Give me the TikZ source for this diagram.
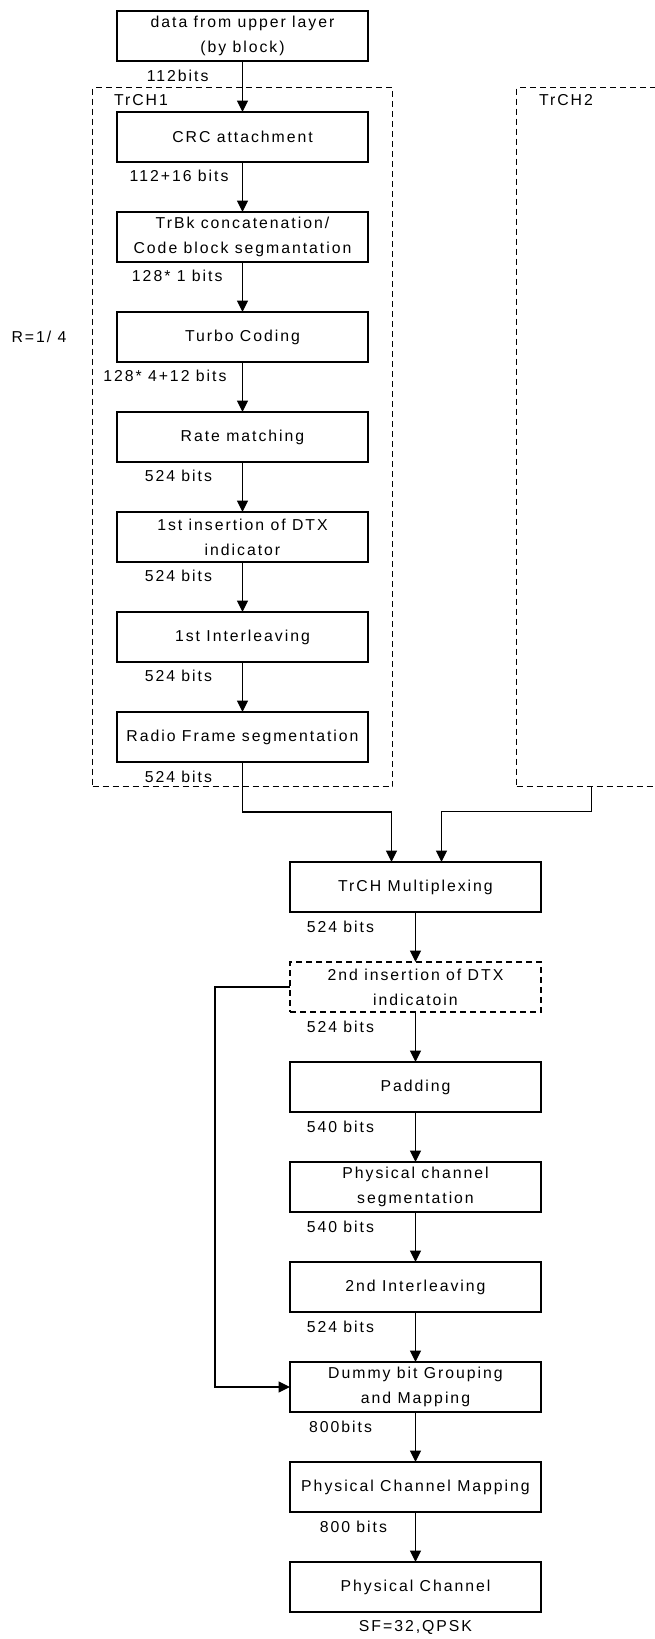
\documentclass[tikz,border=0pt]{standalone}
\usepackage{fontspec}
\setmainfont[LetterSpace=12.5]{Liberation Sans}
\usetikzlibrary{calc, positioning, fit, arrows.meta}

\tikzset{
  >={Triangle[length=11.5pt, width=11pt]},
  block/.style={rectangle, draw, minimum width=251pt, minimum height=50pt, inner sep=0pt, outer sep=0pt, align=center},
  dblock/.style={block, dash pattern=on 6pt off 4pt},
  chbox/.style={rectangle, draw, line width=1pt, outer sep=0pt, dash pattern=on 6pt off 4pt},
  lbl/.style={inner sep=0pt},
}

\begin{document}
\begin{tikzpicture}[x=1pt, y=-1pt, node distance=50pt, line width=1.1pt, font=\fontsize{15.8}{25}\selectfont]
    \useasboundingbox (0,0) rectangle (655,1639);

    % TrCH1 chain
    \node[block] (data) at (242.5,36) {data from upper layer\\(by block)};
    \node[block, below=51pt of data] (crc) {CRC attachment};
    \node[block, below=of crc] (trbk) {TrBk concatenation/\\Code block segmantation};
    \node[block, below=of trbk] (turbo) {Turbo Coding};
    \node[block, below=of turbo] (rm) {Rate matching};
    \node[block, below=of rm] (dtx1) {1st insertion of DTX\\indicator};
    \node[block, below=of dtx1] (il1) {1st Interleaving};
    \node[block, below=of il1] (rfs) {Radio Frame segmentation};

    \node[chbox, fit=(crc)(rfs), inner sep=24.5pt] (ch1) {};
    \node[chbox, right=124pt of ch1, minimum width=150pt, minimum height=699pt] (ch2) {};
    \node[lbl, anchor=west] (t1) at ([xshift=21pt, yshift=-13pt]ch1.north west) {TrCH1};
    \node[lbl, anchor=west] (t2) at ([xshift=22pt, yshift=-13pt]ch2.north west) {TrCH2};
    \node[lbl, left=50pt of turbo] (rate) {R=1/ 4};

    % common part
    \node[block, below=100pt of rfs, xshift=173pt] (mux) {TrCH Multiplexing};
    \node[dblock, below=of mux] (dtx2) {2nd insertion of DTX\\indicatoin};
    \node[block, below=of dtx2] (pad) {Padding};
    \node[block, below=of pad] (pcs) {Physical channel\\segmentation};
    \node[block, below=of pcs] (il2) {2nd Interleaving};
    \node[block, below=of il2] (dummy) {Dummy bit Grouping\\and Mapping};
    \node[block, below=of dummy] (pcm) {Physical Channel Mapping};
    \node[block, below=of pcm] (pc) {Physical Channel};
    \node[lbl, below=8pt of pc] (sf) {SF=32,QPSK};

    \draw (data) edge[->] node[lbl, pos=0.29, left=33.5pt] {112bits} (crc);
    \draw (crc) edge[->] node[lbl, pos=0.28, left=13.5pt] {112+16 bits} (trbk);
    \draw (trbk) edge[->] node[lbl, pos=0.28, left=19.5pt] {128* 1 bits} (turbo);
    \draw (turbo) edge[->] node[lbl, pos=0.28, left=15.5pt] {128* 4+12 bits} (rm);
    \draw (rm) edge[->] node[lbl, pos=0.28, left=30pt] {524 bits} (dtx1);
    \draw (dtx1) edge[->] node[lbl, pos=0.28, left=30pt] {524 bits} (il1);
    \draw (il1) edge[->] node[lbl, pos=0.28, left=30pt] {524 bits} (rfs);

    \coordinate[below=50pt of rfs.south] (bendL);
    \coordinate[below=25pt of ch2.south] (bendR);
    \draw[->] (rfs.south) -- node[lbl, pos=0.3, left=30pt] {524 bits} (bendL) -| ([xshift=-24pt]mux.north);
    \draw[->] (ch2.south) -- (bendR) -| ([xshift=26pt]mux.north);

    \draw (mux) edge[->] node[lbl, pos=0.29, left=41pt] {524 bits} (dtx2);
    \draw (dtx2) edge[->] node[lbl, pos=0.29, left=41pt] {524 bits} (pad);
    \draw (pad) edge[->] node[lbl, pos=0.29, left=41pt] {540 bits} (pcs);
    \draw (pcs) edge[->] node[lbl, pos=0.29, left=41pt] {540 bits} (il2);
    \draw (il2) edge[->] node[lbl, pos=0.29, left=41pt] {524 bits} (dummy);
    \draw (dummy) edge[->] node[lbl, pos=0.29, left=43pt] {800bits} (pcm);
    \draw (pcm) edge[->] node[lbl, pos=0.29, left=28pt] {800 bits} (pc);

    \draw[->] (dtx2.west) -- ++(-75,0) |- (dummy.west);
\end{tikzpicture}
\end{document}
